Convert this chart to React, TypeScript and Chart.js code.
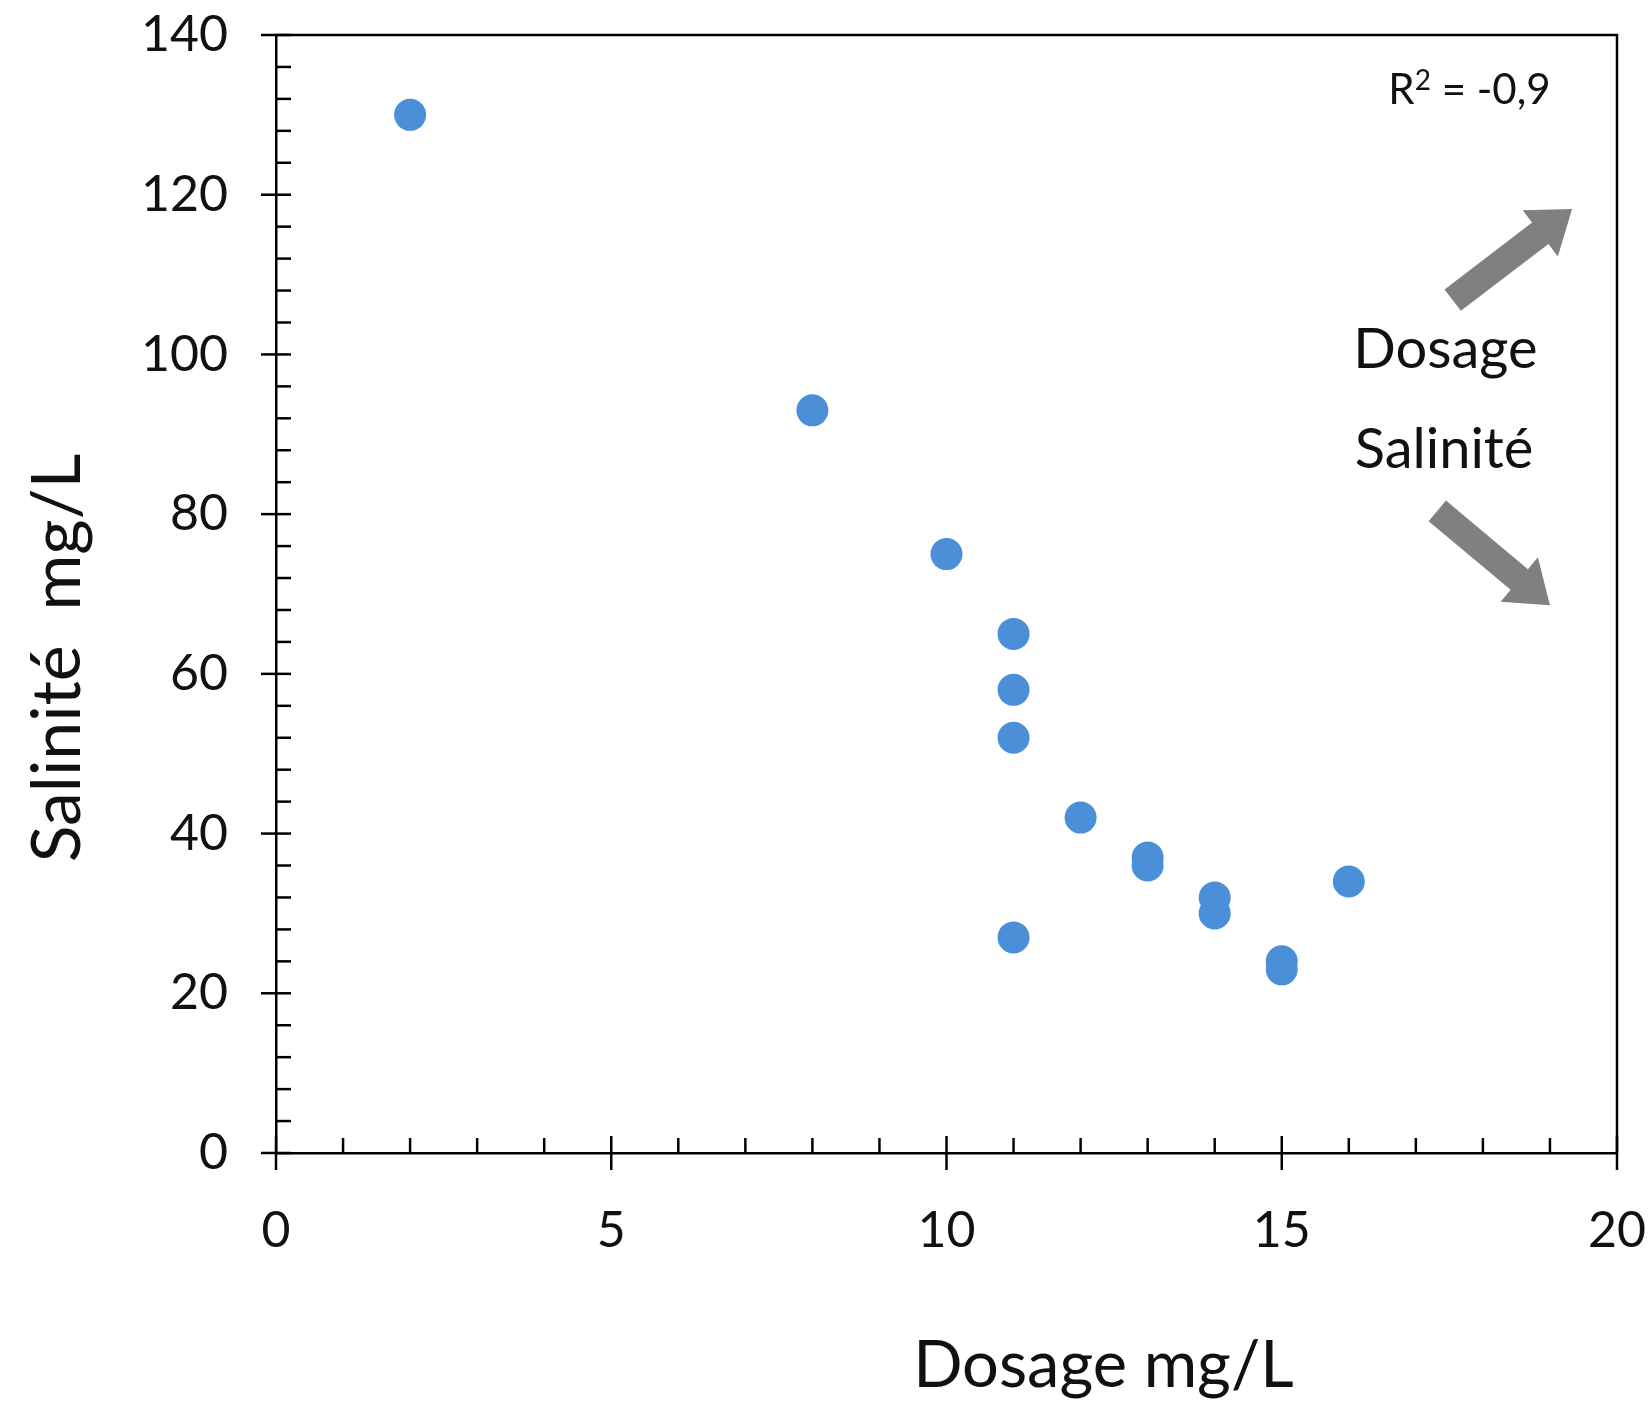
import React, { useEffect, useRef } from "react";
import { Chart, registerables } from "chart.js";

Chart.register(...registerables);

// ---- data ----
const dosage = [2, 8, 10, 11, 11, 11, 11, 12, 13, 13, 14, 14, 15, 15, 16];
const salinity = [130, 93, 75, 65, 58, 52, 27, 42, 37, 36, 32, 30, 24, 23, 34];
const xTicks = [0, 5, 10, 15, 20];
const yTicks = [0, 20, 40, 60, 80, 100, 120, 140];
const xTitle = "Dosage mg/L";
const yTitle = "Salinité  mg/L";
const r2Parts = ["R", "2", " = -0,9"];
const trendLabels = ["Dosage", "Salinité"];

const FONT = "Lato";
const TEXT = "#111";
const POINT = "#4A8FD8";
const ARROW = "#808080";

function drawArrow(ctx: CanvasRenderingContext2D, x1: number, y1: number, x2: number, y2: number, shaftW: number, headW: number, headL: number) {
  const dx = x2 - x1;
  const dy = y2 - y1;
  const len = Math.hypot(dx, dy);
  const ux = dx / len;
  const uy = dy / len;
  const px = -uy;
  const py = ux;
  const bx = x2 - ux * headL;
  const by = y2 - uy * headL;
  ctx.beginPath();
  ctx.moveTo(x1 + px * shaftW / 2, y1 + py * shaftW / 2);
  ctx.lineTo(bx + px * shaftW / 2, by + py * shaftW / 2);
  ctx.lineTo(bx + px * headW / 2, by + py * headW / 2);
  ctx.lineTo(x2, y2);
  ctx.lineTo(bx - px * headW / 2, by - py * headW / 2);
  ctx.lineTo(bx - px * shaftW / 2, by - py * shaftW / 2);
  ctx.lineTo(x1 - px * shaftW / 2, y1 - py * shaftW / 2);
  ctx.closePath();
  ctx.fill();
}

const decorPlugin = {
  id: "decor",
  afterDraw(chart: any) {
    const ctx: CanvasRenderingContext2D = chart.ctx;
    const xs = chart.scales.x;
    const ys = chart.scales.y;
    const a = chart.chartArea;
    ctx.save();
    // frame
    ctx.strokeStyle = "#000";
    ctx.lineWidth = 2.5;
    ctx.beginPath();
    ctx.moveTo(a.left, a.top);
    ctx.lineTo(a.right, a.top);
    ctx.lineTo(a.right, a.bottom);
    ctx.stroke();
    // y ticks
    for (let v = 0; v <= 140; v += 4) {
      const y = ys.getPixelForValue(v);
      const major = v % 20 === 0;
      ctx.beginPath();
      ctx.moveTo(a.left - (major ? 15 : 0), y);
      ctx.lineTo(a.left + 15, y);
      ctx.stroke();
    }
    // x ticks
    for (let v = 0; v <= 20; v += 1) {
      const x = xs.getPixelForValue(v);
      const major = v % 5 === 0;
      ctx.beginPath();
      ctx.moveTo(x, a.bottom + (major ? 17 : 0));
      ctx.lineTo(x, a.bottom - (major ? 17 : 15));
      ctx.stroke();
    }
    // arrows
    ctx.fillStyle = ARROW;
    drawArrow(ctx, xs.getPixelForValue(17.55), ys.getPixelForValue(106.8), xs.getPixelForValue(19.33), ys.getPixelForValue(118.2), 27, 58, 40);
    drawArrow(ctx, xs.getPixelForValue(17.32), ys.getPixelForValue(80.4), xs.getPixelForValue(19.0), ys.getPixelForValue(68.6), 27, 58, 40);
    // R² text
    ctx.fillStyle = TEXT;
    ctx.textBaseline = "alphabetic";
    ctx.textAlign = "left";
    const big = `42px ${FONT}`;
    const small = `28px ${FONT}`;
    ctx.font = big;
    const w0 = ctx.measureText(r2Parts[0]).width;
    const w2 = ctx.measureText(r2Parts[2]).width;
    ctx.font = small;
    const w1 = ctx.measureText(r2Parts[1]).width;
    const total = w0 + w1 + w2;
    let rx = xs.getPixelForValue(17.8) - total / 2;
    const ry = ys.getPixelForValue(133.2) + 15;
    ctx.font = big;
    ctx.fillText(r2Parts[0], rx, ry);
    rx += w0;
    ctx.font = small;
    ctx.fillText(r2Parts[1], rx, ry - 14);
    rx += w1;
    ctx.font = big;
    ctx.fillText(r2Parts[2], rx, ry);
    // trend labels
    ctx.textAlign = "center";
    ctx.textBaseline = "middle";
    ctx.font = `56px ${FONT}`;
    ctx.fillText(trendLabels[0], xs.getPixelForValue(17.44), ys.getPixelForValue(100.5));
    ctx.fillText(trendLabels[1], xs.getPixelForValue(17.42), ys.getPixelForValue(88.1));
    // axis titles
    ctx.font = `65px ${FONT}`;
    ctx.fillText(xTitle, a.left + (a.right - a.left) * 0.617, a.bottom + 213);
    ctx.save();
    ctx.font = `68px ${FONT}`;
    ctx.translate(58, (a.top + a.bottom) / 2 + 64);
    ctx.rotate(-Math.PI / 2);
    ctx.fillText(yTitle, 0, 0);
    ctx.restore();
    ctx.restore();
  },
};

export default function App() {
  const ref = useRef<HTMLCanvasElement | null>(null);
  useEffect(() => {
    if (!ref.current) return;
    const chart = new Chart(ref.current, {
      type: "scatter",
      data: {
        datasets: [
          {
            data: dosage.map((x, i) => ({ x, y: salinity[i] })),
            backgroundColor: POINT,
            borderColor: POINT,
            borderWidth: 0,
            pointRadius: 16,
            pointHoverRadius: 16,
          },
        ],
      },
      options: {
        animation: false,
        responsive: false,
        maintainAspectRatio: false,
        layout: { padding: { left: 0, top: 35, right: 34, bottom: 0 } },
        plugins: { legend: { display: false }, tooltip: { enabled: false } },
        scales: {
          x: {
            type: "linear",
            min: 0,
            max: 20,
            afterBuildTicks: (s: any) => {
              s.ticks = xTicks.map((v) => ({ value: v }));
            },
            afterFit: (s: any) => {
              s.height = 251;
              s.paddingLeft = 0;
              s.paddingRight = 0;
              s.paddingTop = 0;
              s.paddingBottom = 0;
            },
            grid: { display: false, drawTicks: false },
            border: { display: true, color: "#000", width: 2.5 },
            ticks: { font: { family: FONT, size: 50 }, color: TEXT, padding: 48, maxRotation: 0, autoSkip: false },
          },
          y: {
            type: "linear",
            min: 0,
            max: 140,
            afterBuildTicks: (s: any) => {
              s.ticks = yTicks.map((v) => ({ value: v }));
            },
            afterFit: (s: any) => {
              s.width = 276;
              s.paddingLeft = 0;
              s.paddingRight = 0;
              s.paddingTop = 0;
              s.paddingBottom = 0;
            },
            grid: { display: false, drawTicks: false },
            border: { display: true, color: "#000", width: 2.5 },
            ticks: { font: { family: FONT, size: 50 }, color: TEXT, padding: 48, autoSkip: false },
          },
        },
      },
      plugins: [decorPlugin],
    });
    return () => chart.destroy();
  }, []);
  return (
    <div style={{ position: "absolute", left: 0, top: 0, width: 1651, height: 1404, background: "#fff" }}>
      <canvas ref={ref} width={1651} height={1404} style={{ display: "block" }} />
    </div>
  );
}
